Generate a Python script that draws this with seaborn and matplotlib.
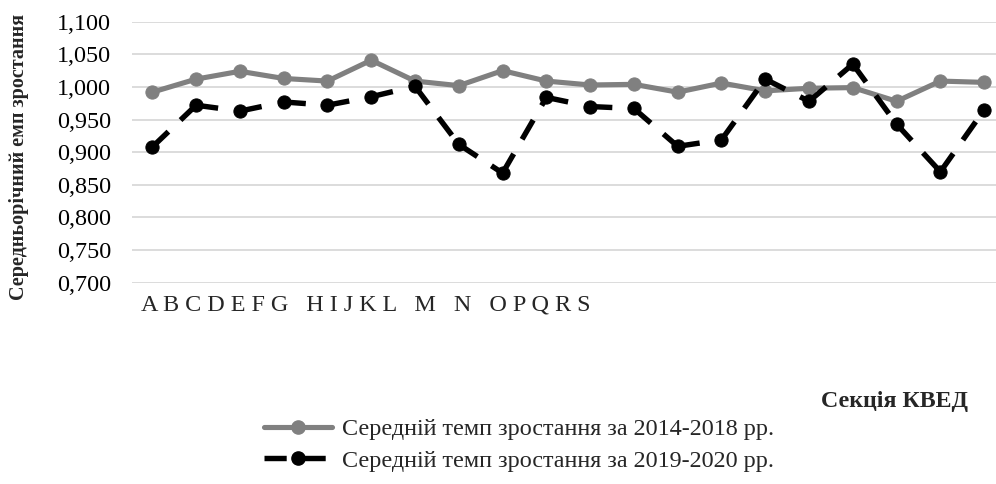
import matplotlib
matplotlib.use("Agg")
import matplotlib.pyplot as plt
from matplotlib.lines import Line2D
from matplotlib.ticker import FuncFormatter, MultipleLocator
import numpy as np
import pandas as pd
import seaborn as sns

# Section letters printed under the axis
sections = ["A", "B", "C", "D", "E", "F", "G", "H", "I", "J", "K", "L",
            "M", "N", "O", "P", "Q", "R", "S"]
section_groups = ["ABCDEFG", "HIJKL", "M", "N", "OPQRS"]

# Average growth rates per section
rate_2014_2018 = [0.992, 1.012, 1.024, 1.013, 1.009, 1.041, 1.009, 1.002,
                  1.025, 1.009, 1.003, 1.004, 0.992, 1.006, 0.994, 0.998,
                  0.999, 0.978, 1.009, 1.007]
rate_2019_2020 = [0.908, 0.972, 0.963, 0.977, 0.972, 0.985, 1.001, 0.912,
                  0.868, 0.984, 0.970, 0.967, 0.909, 0.919, 1.012, 0.978,
                  1.035, 0.943, 0.870, 0.965]

label_1 = "Середній темп зростання за 2014-2018 рр."
label_2 = "Середній темп зростання за 2019-2020 рр."
y_title = "Середньорічний емп зростання"
x_title = "Секція КВЕД"

sns.set_theme(style="white")
plt.rcParams["font.family"] = ["Liberation Serif", "DejaVu Serif"]
FS = 17.4
DASH = (0, (4.1, 3.1))

idx = np.arange(len(rate_2014_2018))
df = pd.DataFrame({"idx": idx, "r1": rate_2014_2018, "r2": rate_2019_2020})

# Dashed series drawn segment by segment so the dash pattern restarts at each point
seg_rows = []
for i in range(len(idx) - 1):
    seg_rows.append({"idx": idx[i], "r2": rate_2019_2020[i], "seg": i})
    seg_rows.append({"idx": idx[i + 1], "r2": rate_2019_2020[i + 1], "seg": i})
seg_df = pd.DataFrame(seg_rows)

W, H = 996, 484
fig = plt.figure(figsize=(W / 100, H / 100), dpi=100)
ax = fig.add_axes([132 / W, (H - 282.7) / H, (W - 132) / W, 261 / H])

gray = "#808080"
sns.lineplot(data=df, x="idx", y="r1", ax=ax, color=gray, linewidth=3.7,
             marker="o", markersize=9.5, markeredgecolor=gray,
             markerfacecolor=gray, zorder=3)
sns.lineplot(data=seg_df, x="idx", y="r2", units="seg", estimator=None, ax=ax,
             color="black", linewidth=3.9, linestyle=DASH,
             dash_capstyle="butt", zorder=4)
sns.lineplot(data=df, x="idx", y="r2", ax=ax, color="black", linestyle="none",
             marker="o", markersize=9.5, markeredgecolor="black",
             markerfacecolor="black", zorder=5)

ax.set_ylim(0.7, 1.1)
ax.set_xlim(-0.464, 19.27)
ax.yaxis.set_major_locator(MultipleLocator(0.05))
ax.yaxis.set_major_formatter(FuncFormatter(lambda v, p: f"{v:.3f}".replace(".", ",")))
ax.grid(axis="y", color="#d9d9d9", linewidth=1.3)
ax.grid(axis="x", visible=False)
for s in ax.spines.values():
    s.set_visible(False)
ax.tick_params(axis="y", length=0, pad=15, labelsize=FS, labelcolor="black")
ax.set_xticks([])
ax.set_xlabel("")
ax.set_ylabel("")

# Section letters
fig.text(141 / W, 1 - 305 / H, "   ".join(" ".join(g) for g in section_groups),
         fontsize=FS, ha="left", va="center")

fig.text(19 / W, 1 - 157 / H, y_title, rotation=90, fontsize=14.5,
         fontweight="bold", ha="center", va="center")
fig.text(968 / W, 1 - 402 / H, x_title, fontsize=17.2, fontweight="bold",
         ha="right", va="center")

if ax.legend_:
    ax.legend_.remove()
handles = [
    Line2D([], [], color=gray, linewidth=3.7, marker="o", markersize=9.5,
           markerfacecolor=gray, markeredgecolor=gray),
    Line2D([], [], color="black", linewidth=3.9, linestyle=DASH,
           dash_capstyle="butt", marker="o", markersize=9.5,
           markerfacecolor="black", markeredgecolor="black"),
]
fig.legend(handles, [label_1, label_2], loc="upper left",
           bbox_to_anchor=(264 / W, 1 - 418.5 / H), frameon=False,
           fontsize=FS, handlelength=2.8, handletextpad=0.42,
           labelspacing=0.38, borderpad=0, borderaxespad=0)

fig.savefig("out.png", dpi=100)
